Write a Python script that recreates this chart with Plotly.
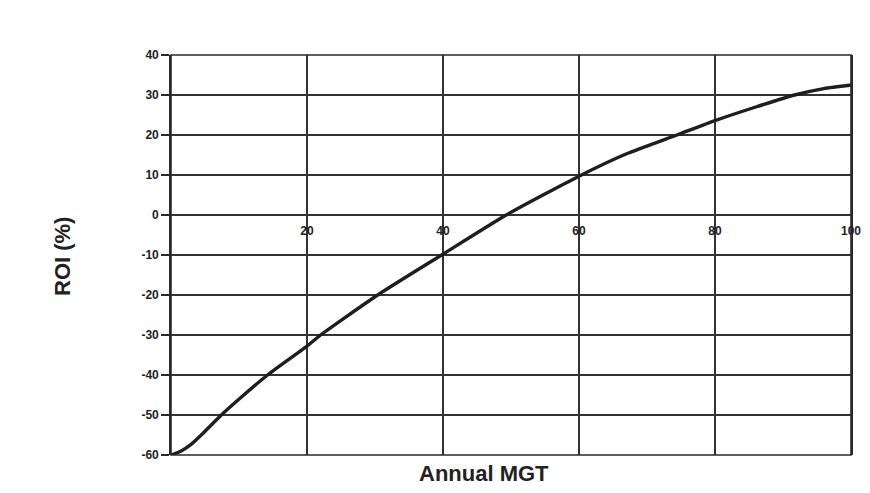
import plotly.graph_objects as go

annual_mgt = [0, 1.5, 3, 4.7, 7.4, 10.7, 14.2, 20, 22, 30.4, 39.8, 49.3, 60, 67, 74.4, 80, 86, 91.7, 96, 100]
roi_pct = [-60, -59.0, -57.3, -54.6, -50, -45, -40, -32.8, -30, -20, -10, 0, 9.7, 15.3, 20, 23.6, 27, 30, 31.6, 32.5]

x_ticks = [20, 40, 60, 80, 100]
y_ticks = [-60, -50, -40, -30, -20, -10, 0, 10, 20, 30, 40]

FONT = "Liberation Sans, Arial, sans-serif"

fig = go.Figure()
fig.add_trace(go.Scatter(
    x=annual_mgt, y=roi_pct, mode="lines",
    line=dict(color="#1e1e1e", width=3.4, shape="spline", smoothing=0.6),
    showlegend=False, hoverinfo="skip"))

fig.update_layout(
    width=854, height=477,
    margin=dict(l=163, r=11, t=47, b=30, autoexpand=False),
    paper_bgcolor="white", plot_bgcolor="white",
    font=dict(family=FONT, color="#222"),
    xaxis=dict(
        range=[0, 100], tickvals=x_ticks, ticktext=[str(v) for v in x_ticks],
        showgrid=True, gridcolor="#333333", gridwidth=1.6,
        zeroline=False, showline=False, automargin=False,
        anchor="free", position=0.6,
        ticks="", tickfont=dict(size=12, family=FONT, color="#222", weight="bold"),
        ticklabelstandoff=7, ticklabeloverflow="allow",
    ),
    yaxis=dict(
        range=[-60, 40], tickvals=y_ticks, ticktext=[str(v) for v in y_ticks],
        showgrid=True, gridcolor="#333333", gridwidth=1.6,
        zeroline=False, showline=True, linecolor="#2a2a2a", linewidth=1.6, mirror=True,
        ticks="outside", ticklen=8, tickwidth=1.6, tickcolor="#2a2a2a",
        ticklabelstandoff=0, automargin=False,
        tickfont=dict(size=12, family=FONT, color="#222", weight="bold"),
        domain=[0, 1],
    ),
    shapes=[
        dict(type="rect", xref="paper", yref="paper", x0=0, y0=0, x1=1, y1=1,
             line=dict(color="#2a2a2a", width=1.6)),
    ],
    annotations=[
        dict(text="Annual MGT", xref="paper", yref="paper", x=0.46, y=0,
             yshift=-18, showarrow=False,
             font=dict(size=22, color="#222", family=FONT, weight="bold"),
             xanchor="center", yanchor="middle"),
        dict(text="ROI (%)", xref="paper", yref="paper", x=0, y=0.5,
             xshift=-109, yshift=-2, showarrow=False, textangle=-90,
             font=dict(size=22, color="#222", family=FONT, weight="bold"),
             xanchor="center", yanchor="middle"),
    ],
)

fig.write_html("out.html")
